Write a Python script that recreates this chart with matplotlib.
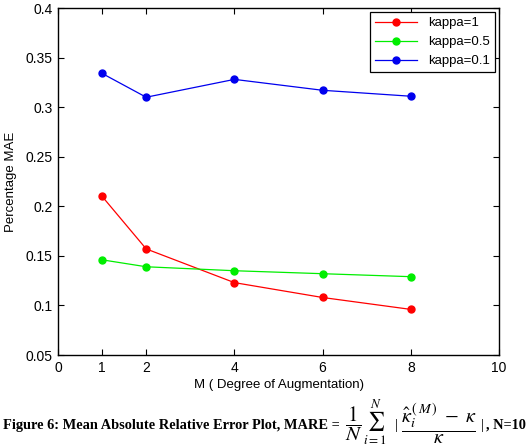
import matplotlib
matplotlib.use("Agg")
import matplotlib.pyplot as plt

M = [1, 2, 4, 6, 8]
kappa1 = [0.210, 0.157, 0.123, 0.108, 0.096]
kappa05 = [0.146, 0.139, 0.135, 0.132, 0.129]
kappa01 = [0.334, 0.310, 0.328, 0.317, 0.311]
xticks = [0, 1, 2, 4, 6, 8, 10]
yticks = [0.05, 0.1, 0.15, 0.2, 0.25, 0.3, 0.35, 0.4]
ytick_labels = ["0.05", "0.1", "0.15", "0.2", "0.25", "0.3", "0.35", "0.4"]

plt.rcParams['font.family'] = ['Liberation Sans', 'DejaVu Sans']
plt.rcParams['mathtext.fontset'] = 'stix'

fig = plt.figure(figsize=(5.26, 4.48), dpi=100)
ax = fig.add_axes([58/526, 1 - 355/448, (499-58)/526, (355-8)/448])

ax.plot(M, kappa1, '-o', color='#ff0000', lw=0.9, ms=5, label='kappa=1')
ax.plot(M, kappa05, '-o', color='#00ee00', lw=0.9, ms=5, label='kappa=0.5')
ax.plot(M, kappa01, '-o', color='#0000ee', lw=0.9, ms=5, label='kappa=0.1')

ax.set_xlim(0, 10)
ax.set_ylim(0.05, 0.4)
ax.set_xticks(xticks)
ax.set_xticklabels([str(t) for t in xticks])
ax.set_yticks(yticks)
ax.set_yticklabels(ytick_labels)
ax.tick_params(direction='in', top=True, right=True, labelsize=10, length=4, pad=4)
for s in ax.spines.values():
    s.set_linewidth(1.0)
ax.set_xlabel('M ( Degree of Augmentation)', fontsize=9.5, labelpad=3)
ax.set_ylabel('Percentage MAE', fontsize=9.5, labelpad=6)

leg = ax.legend(loc='upper right', fontsize=9.5, fancybox=False, framealpha=1,
                edgecolor='black', borderaxespad=0.3, handlelength=3.2,
                labelspacing=0.5, borderpad=0.4)
leg.get_frame().set_linewidth(0.9)

yc = 1 - 425/448
fig.text(3/526, yc,
         "Figure 6: Mean Absolute Relative Error Plot, MARE =",
         fontsize=10.4, fontweight='bold', family=['Liberation Serif'], va='center', ha='left')
fig.text(345/526, 1 - 424/448, r"$\dfrac{1}{N}$",
         fontsize=15, va='center', ha='left')
fig.text(363/526, 1 - 422/448, r"$\sum_{i=1}^{N}$",
         fontsize=13.5, va='center', ha='left')
fig.text(395/526, yc, "|", fontsize=11, family=['Liberation Serif'], va='center', ha='left')
fig.text(401/526, 1 - 424/448,
         r"$\dfrac{\hat{\kappa}_i^{\,(\,M\,)}\;-\;\kappa}{\kappa}$",
         fontsize=14.5, va='center', ha='left')
fig.text(481/526, yc, "|", fontsize=11, family=['Liberation Serif'], va='center', ha='left')
fig.text(486/526, yc, ", N=10",
         fontsize=10.4, fontweight='bold', family=['Liberation Serif'], va='center', ha='left')

fig.savefig('out.png', dpi=100)
